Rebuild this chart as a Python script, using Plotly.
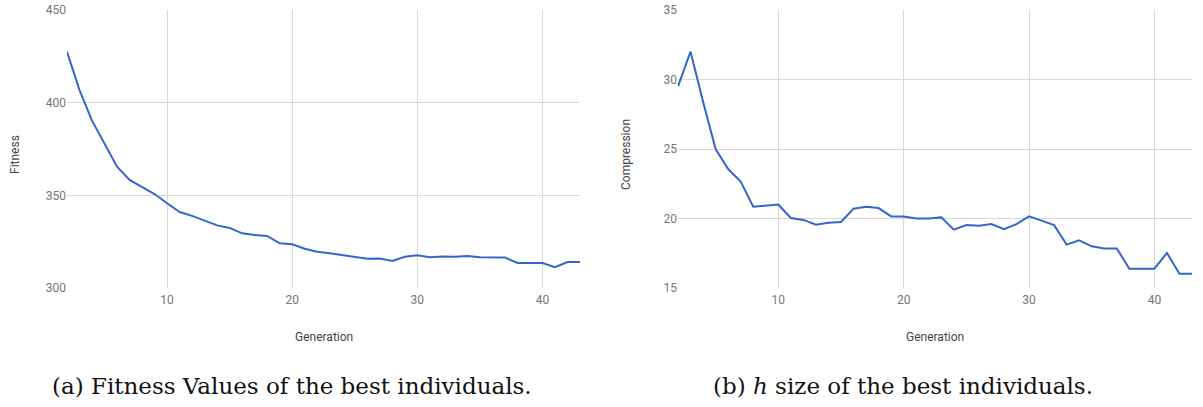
import plotly.graph_objects as go

# Generations shared by both runs
generation = list(range(2, 44))

# Best-individual fitness per generation
fitness = [427.5, 406.8, 390.3, 378.0, 365.5, 358.3, 354.3, 350.7, 345.7, 341.0,
           338.9, 336.3, 333.8, 332.4, 329.5, 328.6, 328.1, 324.1, 323.6, 321.2,
           319.6, 318.7, 317.6, 316.9, 315.8, 315.9, 314.6, 316.9, 317.6, 316.6,
           317.0, 316.9, 317.3, 316.6, 316.4, 316.4, 313.5, 313.5, 313.5, 311.2,
           314.0, 314.0]

# Compression (h size) of the best individual per generation
compression = [29.5, 32.0, 28.4, 25.0, 23.56, 22.65, 20.85, 20.9, 21.0, 20.04,
               19.9, 19.55, 19.7, 19.75, 20.7, 20.85, 20.75, 20.15, 20.15, 20.0,
               20.0, 20.08, 19.2, 19.53, 19.48, 19.6, 19.24, 19.6, 20.15, 19.85,
               19.52, 18.12, 18.43, 18.0, 17.85, 17.85, 16.39, 16.39, 16.39, 17.52,
               16.03, 16.03]

x_ticks = [10, 20, 30, 40]
fitness_ticks = [300, 350, 400, 450]
compression_ticks = [15, 20, 25, 30, 35]

W, H = 1203, 407
LINE = "#3366cc"
GRID = "#d9d9d9"
TICK_COLOR = "#757575"
TITLE_COLOR = "#444444"


def px_x(v):
    return v / W


def px_y(v):
    return 1 - v / H


fig = go.Figure()
fig.add_trace(go.Scatter(x=generation, y=fitness, mode="lines",
                         line=dict(color=LINE, width=2), xaxis="x", yaxis="y",
                         showlegend=False))
fig.add_trace(go.Scatter(x=generation, y=compression, mode="lines",
                         line=dict(color=LINE, width=2), xaxis="x2", yaxis="y2",
                         showlegend=False))

axis_common = dict(showgrid=True, gridcolor=GRID, gridwidth=1, zeroline=False,
                   showline=False, ticks="", automargin=False,
                   tickfont=dict(family="Roboto", size=12, color=TICK_COLOR))
x_common = dict(range=[2, 43], tickvals=x_ticks, ticklabelstandoff=3, **axis_common)

top, bottom = px_y(10), px_y(288)

fig.update_layout(
    template="none",
    width=W, height=H,
    margin=dict(l=0, r=0, t=0, b=0, pad=0),
    paper_bgcolor="white", plot_bgcolor="white",
    xaxis=dict(domain=[px_x(67), px_x(580)], anchor="y", **x_common),
    yaxis=dict(domain=[bottom, top], range=[300, 450], tickvals=fitness_ticks,
               anchor="x", **axis_common),
    xaxis2=dict(domain=[px_x(678), px_x(1192)], anchor="y2", **x_common),
    yaxis2=dict(domain=[bottom, top], range=[15, 35], tickvals=compression_ticks,
                anchor="x2", **axis_common),
)

title_font = dict(family="Roboto", size=12, color=TITLE_COLOR)
caption_font = dict(family="DejaVu Serif", size=23, color="#111111")

annotations = [
    dict(text="Fitness", x=px_x(15), y=px_y(155), textangle=-90, font=title_font),
    dict(text="Compression", x=px_x(626), y=px_y(155), textangle=-90, font=title_font),
    dict(text="Generation", x=px_x(323.5), y=px_y(337), font=title_font),
    dict(text="Generation", x=px_x(935), y=px_y(337), font=title_font),
    dict(text="(a) Fitness Values of the best individuals.", x=px_x(292),
         y=px_y(386), font=caption_font),
    dict(text="(b) <i>h</i> size of the best individuals.", x=px_x(903),
         y=px_y(386), font=caption_font),
]
for a in annotations:
    fig.add_annotation(xref="paper", yref="paper", showarrow=False,
                       xanchor="center", yanchor="middle", **a)

# The page body should not add its own margin around the fixed-size figure.
fig.write_html("out.html",
               post_script="document.body.style.margin='0';"
                           "document.body.style.overflow='hidden';")
